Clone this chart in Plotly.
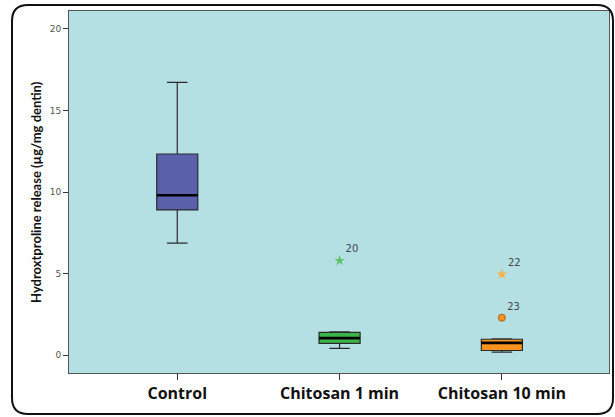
import plotly.graph_objects as go

# ---- data ----
categories = ["Control", "Chitosan 1 min", "Chitosan 10 min"]
q1 = [8.9, 0.72, 0.28]
median = [9.8, 1.04, 0.75]
q3 = [12.33, 1.39, 0.97]
lower_whisker = [6.87, 0.41, 0.18]
upper_whisker = [16.72, 1.43, 1.0]
box_colors = ["#5b60aa", "#3bb54a", "#f7931e"]

outlier_cat = [1, 2, 2]
outlier_val = [5.79, 4.95, 2.29]
outlier_label = ["20", "22", "23"]
outlier_symbol = ["star", "star", "circle"]
outlier_color = ["#5dc46c", "#f0b44a", "#f7931e"]

y_ticks = [0, 5, 10, 15, 20]

W, H = 615, 417
L, R, T, B = 69, 6, 11, 44
PW, PH = W - L - R, H - T - B

fig = go.Figure()
box_w = 0.253
for i, cat in enumerate(categories):
    fig.add_trace(go.Box(
        x=[i], q1=[q1[i]], median=[median[i]], q3=[q3[i]],
        lowerfence=[lower_whisker[i]], upperfence=[upper_whisker[i]],
        width=box_w, whiskerwidth=0.5, fillcolor=box_colors[i],
        line=dict(color="#2a2a2a", width=1.2), boxpoints=False,
        showlegend=False, hoverinfo="skip"))
    # thick median line
    fig.add_trace(go.Box(
        x=[i], q1=[median[i]], median=[median[i]], q3=[median[i]],
        lowerfence=[median[i]], upperfence=[median[i]],
        width=box_w, whiskerwidth=0, fillcolor="rgba(0,0,0,0)",
        line=dict(color="#000000", width=2.6), boxpoints=False,
        showlegend=False, hoverinfo="skip"))

for c, v, lab, sym, col in zip(outlier_cat, outlier_val, outlier_label,
                               outlier_symbol, outlier_color):
    fig.add_trace(go.Scatter(
        x=[c], y=[v], mode="markers+text", text=[lab],
        textposition="top right",
        textfont=dict(family="DejaVu Sans", size=10, color="#444444"),
        marker=dict(symbol=sym, size=8 if sym == "star" else 7, color=col,
                    line=dict(color="#b06010" if sym == "circle" else col,
                              width=1 if sym == "circle" else 0)),
        showlegend=False, hoverinfo="skip"))


def px(x):
    return (x - L) / PW


def py(y):
    return (H - B - y) / PH


# rounded outer frame
x0, x1, y0, y1, r = 12, 613, 5, 414, 16
path = (f"M {px(x0 + r)},{py(y0)} L {px(x1 - r)},{py(y0)} "
        f"Q {px(x1)},{py(y0)} {px(x1)},{py(y0 + r)} "
        f"L {px(x1)},{py(y1 - r)} Q {px(x1)},{py(y1)} {px(x1 - r)},{py(y1)} "
        f"L {px(x0 + r)},{py(y1)} Q {px(x0)},{py(y1)} {px(x0)},{py(y1 - r)} "
        f"L {px(x0)},{py(y0 + r)} Q {px(x0)},{py(y0)} {px(x0 + r)},{py(y0)} Z")
fig.add_shape(type="path", path=path, xref="paper", yref="paper",
              line=dict(color="#111111", width=2), layer="above")

fig.add_annotation(text="Hydroxtproline release (µg/mg dentin)",
                   xref="paper", yref="paper", x=px(36), y=py(192),
                   xanchor="center", yanchor="middle",
                   textangle=-90, showarrow=False,
                   font=dict(family="Lato", size=13, color="#111111", weight="bold"))

fig.update_layout(
    width=W, height=H,
    margin=dict(l=L, r=R, t=T, b=B, autoexpand=False),
    paper_bgcolor="white", plot_bgcolor="#b4e0e4",
    boxmode="overlay",
    xaxis=dict(range=[-0.667, 2.66], tickvals=[0, 1, 2], ticktext=categories,
               showgrid=False, zeroline=False, showline=True, mirror=True,
               linecolor="#555555", linewidth=1, ticks="outside", ticklen=6,
               tickcolor="#333333",
               tickfont=dict(family="Open Sans", size=16, color="#111111", weight="bold")),
    yaxis=dict(range=[-1.1, 21.1], tickvals=y_ticks, showgrid=False,
               zeroline=False, showline=True, mirror=True,
               linecolor="#555555", linewidth=1, ticks="outside", ticklen=5,
               tickcolor="#333333",
               tickfont=dict(family="DejaVu Sans", size=9, color="#555555")),
)

fig.write_html("out.html", config={"displayModeBar": False},
               post_script="document.body.style.margin='0';")
